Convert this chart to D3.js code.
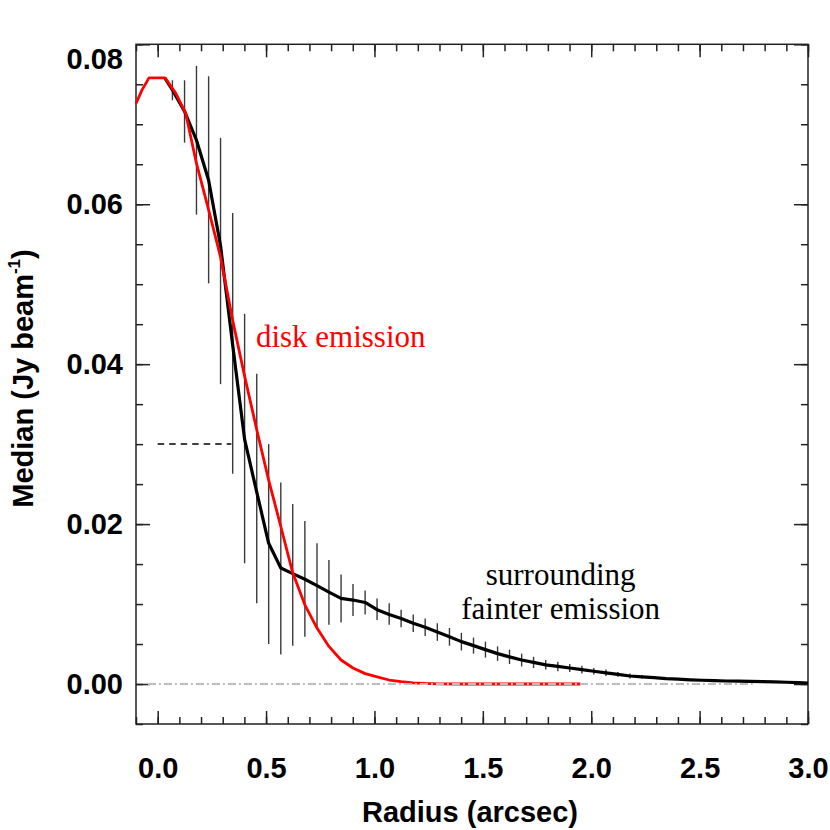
<!DOCTYPE html>
<html>
<head>
<meta charset="utf-8">
<script src="https://cdn.jsdelivr.net/npm/d3@7"></script>
<style>
  html, body { margin: 0; padding: 0; background: #fff; }
  svg { display: block; }
</style>
</head>
<body>
<svg id="chart" width="830" height="830"></svg>
<script>
// ---------------- data ----------------
// Observed median profile (black) with error bars
const radius = [0.034, 0.068, 0.124, 0.179, 0.235, 0.290, 0.346, 0.401, 0.457, 0.512,
  0.568, 0.623, 0.679, 0.735, 0.790, 0.846, 0.901, 0.957, 1.012, 1.068,
  1.123, 1.179, 1.234, 1.290, 1.346, 1.401, 1.457, 1.512, 1.568, 1.623,
  1.679, 1.734, 1.790, 1.846, 1.901, 1.957, 2.012, 2.068, 2.123, 2.179,
  2.234, 2.290, 2.345, 2.401, 2.457, 2.512, 2.568, 2.623, 2.679, 2.734,
  2.790, 2.845, 2.901, 2.957, 3.000];
const median = [0.07575, 0.0743, 0.0716, 0.0680, 0.0630, 0.0548, 0.0424, 0.0306, 0.0240, 0.0176,
  0.0145, 0.0138, 0.0131, 0.0123, 0.0115, 0.0107, 0.0105, 0.0102, 0.0093, 0.0087,
  0.0082, 0.0076, 0.0071, 0.0065, 0.0059, 0.0053, 0.0048, 0.0043, 0.0038, 0.0034,
  0.0030, 0.0027, 0.0024, 0.0022, 0.0020, 0.0018, 0.0016, 0.0014, 0.0012, 0.0010,
  0.0009, 0.0008, 0.00068, 0.00060, 0.00053, 0.00047, 0.00042, 0.00038, 0.00035, 0.00032,
  0.00029, 0.00026, 0.00022, 0.00018, 0.00013];
const errLow = [0.07575, 0.0730, 0.0677, 0.0587, 0.0501, 0.0375, 0.0263, 0.0151, 0.0101, 0.0050,
  0.0037, 0.0048, 0.0059, 0.0070, 0.0074, 0.0077, 0.0085, 0.0087, 0.0080, 0.0074,
  0.0071, 0.0065, 0.0060, 0.0054, 0.0048, 0.0042, 0.0038, 0.0033, 0.0029, 0.0025,
  0.0022, 0.0020, 0.0018, 0.0016, 0.0015, 0.0013, 0.0012, 0.0010, 0.0009, 0.0007,
  0.0007, 0.0007, 0.00068, 0.00060, 0.00053, 0.00047, 0.00042, 0.00038, 0.00035, 0.00032,
  0.00029, 0.00026, 0.00022, 0.00018, 0.00013];
const errHigh = [0.07575, 0.0755, 0.0755, 0.0773, 0.0760, 0.0683, 0.0589, 0.0463, 0.0388, 0.0300,
  0.0252, 0.0225, 0.0204, 0.0176, 0.0155, 0.0137, 0.0125, 0.0117, 0.0107, 0.0101,
  0.0093, 0.0087, 0.0082, 0.0076, 0.0070, 0.0064, 0.0058, 0.0053, 0.0047, 0.0043,
  0.0038, 0.0034, 0.0030, 0.0028, 0.0025, 0.0023, 0.0020, 0.0018, 0.0015, 0.0013,
  0.0011, 0.0009, 0.00068, 0.00060, 0.00053, 0.00047, 0.00042, 0.00038, 0.00035, 0.00032,
  0.00029, 0.00026, 0.00022, 0.00018, 0.00013];

// Disk model profile (red)
const diskRadius = [-0.100, -0.072, -0.040, 0.034, 0.083, 0.129, 0.179, 0.235, 0.290, 0.346,
  0.401, 0.457, 0.512, 0.568, 0.623, 0.679, 0.735, 0.790, 0.846, 0.901,
  0.957, 1.012, 1.068, 1.123, 1.179, 1.234, 1.290, 1.400, 1.600, 1.800, 1.950];
const diskValue = [0.0726, 0.0743, 0.0758, 0.0758, 0.0739, 0.0714, 0.0651, 0.0593, 0.0534, 0.0455,
  0.0385, 0.0318, 0.0255, 0.0197, 0.0139, 0.0099, 0.0070, 0.0047, 0.0030, 0.0020,
  0.0013, 0.0009, 0.0005, 0.0003, 0.00015, 0.00007, 0.00003, 0, 0, 0, 0];

// reference lines
const zeroLine = { r: [-0.045, 2.745], v: [0, 0] };
const levelLine = { r: [0.0, 0.34], v: [0.030, 0.030] };

// axis ticks
const xMajor = [0.0, 0.5, 1.0, 1.5, 2.0, 2.5, 3.0];
const xTickLabels = ["0.0", "0.5", "1.0", "1.5", "2.0", "2.5", "3.0"];
const yMajor = [0.00, 0.02, 0.04, 0.06, 0.08];
const yTickLabels = ["0.00", "0.02", "0.04", "0.06", "0.08"];

// annotations (data coordinates)
const notes = [
  { text: "disk emission", r: 0.453, v: 0.0421, anchor: "start", color: "#ff0000" },
  { text: "surrounding", r: 1.859, v: 0.0124, anchor: "middle", color: "#000000" },
  { text: "fainter emission", r: 1.859, v: 0.0081, anchor: "middle", color: "#000000" }
];

// ---------------- layout ----------------
const L = 136, R = 808, T = 44.3, B = 724;
const svg = d3.select("#chart");
const x = d3.scaleLinear().domain([-0.1, 3.0]).range([L, R]);
const y = d3.scaleLinear().domain([-0.005, 0.08]).range([B, T]);

const sans = "'Liberation Sans', Arial, Helvetica, sans-serif";
const serif = "'Liberation Serif', 'Times New Roman', Times, serif";

// ---------------- axes ----------------
const xMinor = d3.range(-0.1, 3.0001, 0.1).map(d => +d.toFixed(2));
const yMinor = d3.range(-0.005, 0.08001, 0.005).map(d => +d.toFixed(3));

function styleAxis(g) {
  g.select(".domain").remove();
  g.selectAll(".tick line").attr("stroke", "#222").attr("stroke-width", 1.5);
  g.selectAll(".tick text").attr("fill", "#000")
    .style("font-family", sans).style("font-weight", "bold").style("font-size", "29px");
}

// bottom
svg.append("g").attr("transform", `translate(0,${B})`)
  .call(d3.axisBottom(x).tickValues(xMinor).tickSize(-7).tickFormat(""))
  .call(styleAxis);
svg.append("g").attr("transform", `translate(0,${B})`)
  .call(d3.axisBottom(x).tickValues(xMajor).tickSize(-13).tickPadding(33)
    .tickFormat((d, i) => xTickLabels[i]))
  .call(styleAxis);
// top
svg.append("g").attr("transform", `translate(0,${T})`)
  .call(d3.axisTop(x).tickValues(xMinor).tickSize(-7).tickFormat(""))
  .call(styleAxis);
svg.append("g").attr("transform", `translate(0,${T})`)
  .call(d3.axisTop(x).tickValues(xMajor).tickSize(-13).tickFormat(""))
  .call(styleAxis);
// left
svg.append("g").attr("transform", `translate(${L},0)`)
  .call(d3.axisLeft(y).tickValues(yMinor).tickSize(-7).tickFormat(""))
  .call(styleAxis);
const yAx = svg.append("g").attr("transform", `translate(${L},0)`)
  .call(d3.axisLeft(y).tickValues(yMajor).tickSize(-14).tickPadding(13)
    .tickFormat((d, i) => yTickLabels[i]))
  .call(styleAxis);
// keep the top label inside the frame height, as in the original
yAx.selectAll(".tick text").filter(d => d === 0.08).attr("dy", "0.85em");
// right
svg.append("g").attr("transform", `translate(${R},0)`)
  .call(d3.axisRight(y).tickValues(yMinor).tickSize(-7).tickFormat(""))
  .call(styleAxis);
svg.append("g").attr("transform", `translate(${R},0)`)
  .call(d3.axisRight(y).tickValues(yMajor).tickSize(-14).tickFormat(""))
  .call(styleAxis);

// frame
svg.append("rect").attr("x", L).attr("y", T).attr("width", R - L).attr("height", B - T)
  .attr("fill", "none").attr("stroke", "#222").attr("stroke-width", 1.5);

// ---------------- marks ----------------
const plot = svg.append("g");
const idx = d3.range(radius.length);

// error bars
plot.selectAll("line.err").data(idx.filter(i => errHigh[i] > errLow[i])).join("line")
  .attr("class", "err")
  .attr("x1", i => x(radius[i])).attr("x2", i => x(radius[i]))
  .attr("y1", i => y(errLow[i])).attr("y2", i => y(errHigh[i]))
  .attr("stroke", "#3a3a3a").attr("stroke-width", 1.4);

// dashed level line
plot.append("path")
  .attr("d", d3.line().x((d, i) => x(levelLine.r[i])).y((d, i) => y(levelLine.v[i]))(levelLine.r))
  .attr("fill", "none").attr("stroke", "#000").attr("stroke-width", 1.5)
  .attr("stroke-dasharray", "6.5,5");

// observed profile
plot.append("path")
  .attr("d", d3.line().x(i => x(radius[i])).y(i => y(median[i]))(idx))
  .attr("fill", "none").attr("stroke", "#000").attr("stroke-width", 3.2)
  .attr("stroke-linejoin", "round");

// disk model profile
const didx = d3.range(diskRadius.length);
plot.append("path")
  .attr("d", d3.line().x(i => x(diskRadius[i])).y(i => y(diskValue[i]))(didx))
  .attr("fill", "none").attr("stroke", "#ff0000").attr("stroke-width", 2.8)
  .attr("stroke-linejoin", "round");

// zero dash-dot line
plot.append("path")
  .attr("d", d3.line().x((d, i) => x(zeroLine.r[i])).y((d, i) => y(zeroLine.v[i]))(zeroLine.r))
  .attr("fill", "none").attr("stroke", "#bdbdbd").attr("stroke-width", 2)
  .attr("stroke-dasharray", "8,3,2,3");

// ---------------- text ----------------
svg.selectAll("text.note").data(notes).join("text")
  .attr("class", "note")
  .attr("x", d => x(d.r)).attr("y", d => y(d.v))
  .attr("text-anchor", d => d.anchor)
  .attr("fill", d => d.color)
  .style("font-family", serif).style("font-size", "31px")
  .text(d => d.text);

svg.append("text")
  .attr("x", (L + R) / 2 - 2).attr("y", 821.7)
  .attr("text-anchor", "middle")
  .style("font-family", sans).style("font-weight", "bold").style("font-size", "29px")
  .text("Radius (arcsec)");

const yl = svg.append("text")
  .attr("transform", "translate(33,378.5) rotate(-90)")
  .attr("text-anchor", "middle")
  .style("font-family", sans).style("font-weight", "bold").style("font-size", "29px");
yl.append("tspan").text("Median (Jy beam");
yl.append("tspan").attr("dy", -13).style("font-size", "17px").text("-1");
yl.append("tspan").attr("dy", 13).text(")");
</script>
</body>
</html>
